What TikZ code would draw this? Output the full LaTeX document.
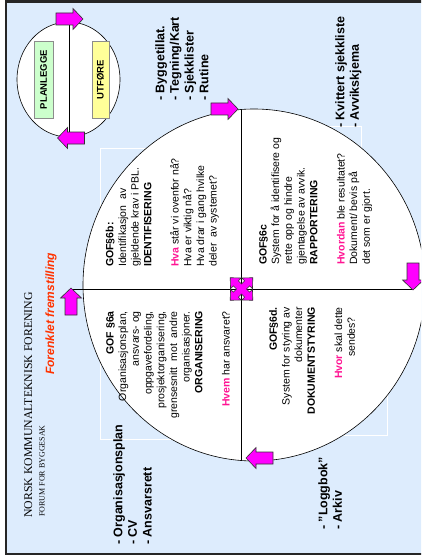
\documentclass[tikz,border=0pt]{standalone}
\usepackage{fontspec}
\setmainfont{Liberation Sans}
\newfontfamily\seriffam{Liberation Serif}
\definecolor{bgblue}{RGB}{221,236,253}
\definecolor{mag}{RGB}{255,0,255}
\definecolor{hot}{RGB}{255,20,147}
\definecolor{titlered}{RGB}{255,51,0}
\definecolor{boxgreen}{RGB}{204,255,204}
\definecolor{boxyellow}{RGB}{255,255,153}
\begin{document}
\begin{tikzpicture}[x=1pt,y=-1pt,
  qtext/.style={rotate=90, inner sep=0pt, font=\fontsize{10.5}{12.7}\selectfont},
  listtext/.style={rotate=90, inner sep=0pt, align=left, anchor=north west,
    font=\bfseries\fontsize{12.5}{14.7}\selectfont},
  faint/.style={draw=white, line width=0.8pt},
  conn/.style={draw=black, line width=0.7pt},
  phasebox/.style={rotate=90, draw=black!45, line width=0.6pt, inner sep=0pt,
    minimum width=77pt, font=\bfseries\fontsize{9.5}{10}\selectfont},
  arrowsty/.style={fill=mag, draw=black!80, line width=0.6pt},
  barrow/.pic={\draw[arrowsty] (-13.5,-6) -- (3.5,-6) -- (3.5,-10.5) -- (13.5,0)
     -- (3.5,10.5) -- (3.5,6) -- (-13.5,6) -- cycle;},
  crossarrow/.pic={\draw[arrowsty] (3.5,3.5) -- (8,3.5) -- (8,7.5) -- (16,0) -- (8,-7.5)
     -- (8,-3.5) -- (3.5,-3.5) -- (3.5,-8) -- (7.5,-8) -- (0,-16) -- (-7.5,-8)
     -- (-3.5,-8) -- (-3.5,-3.5) -- (-8,-3.5) -- (-8,-7.5) -- (-16,0) -- (-8,7.5)
     -- (-8,3.5) -- (-3.5,3.5) -- (-3.5,8) -- (-7.5,8) -- (0,16) -- (7.5,8)
     -- (3.5,8) -- cycle;}
]
\useasboundingbox (0,0) rectangle (421,559);
\clip (0,0) rectangle (421,559);
\fill[white] (0,0) rectangle (421,559);
% slide frame
\draw[line width=2.4pt, draw=black!85, fill=bgblue] (6.2,1.5) rectangle (460,554);

% faint text-box outlines
\draw[faint] (100,148) rectangle (241,289);
\draw[faint] (100,289) rectangle (241,439);
\draw[faint] (241,126) rectangle (361,289);
\draw[faint] (241,289) rectangle (387,435);

% small cycle
\draw[fill=white, line width=0.6pt] (68.5,79.5) ellipse [x radius=51.5, y radius=57.5];
\coordinate (stop) at (69,22);
\coordinate (sbot) at (69,137);
\draw[conn] (stop) -- (sbot);
\node[phasebox, fill=boxgreen, minimum height=19pt] (plan) at (43.5,79.5) {PLANLEGGE};
\node[phasebox, fill=boxyellow, minimum height=17pt] (utf) at (100.5,79.5) {UTFØRE};
\pic at (69.5,19) {barrow};
\pic[rotate=180] at (71,138) {barrow};

% big circle
\draw[fill=white, line width=0.6pt] (254,285) ellipse [x radius=171, y radius=176];
\coordinate (vtop) at (241,109.5);
\coordinate (vbot) at (241,460.5);
\coordinate (hleft) at (71,289);
\coordinate (hright) at (413,289);
\draw[conn] (vtop) -- (vbot);
\draw[conn] (hleft) -- (hright);

% title
\node[rotate=90, anchor=base west, inner sep=0pt, font=\seriffam\fontsize{11.8}{14}\selectfont] (title) at (32,518)
  {NORSK KOMMUNALTEKNISK FORENING};
\node[rotate=90, anchor=base west, inner sep=0pt, font=\seriffam\fontsize{8}{9}\selectfont] (forum) at (44.5,517) {FORUM FOR BYGGESAK};
\node[rotate=90, anchor=base west, inner sep=0pt, text=titlered,
  font=\bfseries\itshape\fontsize{12}{14}\selectfont] (sub) at (54,375) {Forenklet fremstilling};

% outer lists
\node[listtext] (listtop) at (155,101) {- Byggetillat.\\- Tegning/Kart\\- Sjekklister\\- Rutine};
\node[listtext] (listright) at (335,128) {- Kvittert sjekkliste\\- Avvikskjema};
\node[listtext] (listleft) at (113,545) {- Organisasjonsplan\\- CV\\- Ansvarsrett};
\node[listtext] (listbot) at (318,530) {- ''Loggbok''\\- Arkiv};

% quadrant texts
\node[qtext, anchor=north west, align=left] (qb) at (105.5,267)
  {\textbf{GOF§6b:}\\Identifikasjon\ \ av\\gjeldende krav i PBL.\\\textbf{IDENTIFISERING}\\[14.5pt]
   {\bfseries\color{hot}Hva} står vi ovenfor nå?\\Hva er viktig nå?\\Hva drar i gang hvilke\\deler\ \ av systemet?};
\node[qtext, anchor=north east, align=right] (qa) at (106,311)
  {\textbf{GOF §6a}\\Organisasjonsplan,\\ansvars- og\\oppgavefordeling,\\prosjektorganisering,\\grensesnitt\ \ mot\ \ andre\\organisasjoner.\\\textbf{ORGANISERING}\\[14.5pt]
   {\bfseries\color{hot}Hvem} har ansvaret?};
\node[qtext, anchor=north west, align=left] (qc) at (259,265)
  {\textbf{GOF§6c}\\System for å identifisere og\\rette opp og hindre\\gjentagelse av avvik.\\\textbf{RAPPORTERING}\\[14.5pt]
   {\bfseries\color{hot}Hvordan} ble resultatet?\\Dokument/ bevis på\\det som er gjort.};
\node[qtext, anchor=north east, align=right] (qd) at (269,307)
  {\textbf{GOF§6d.}\\System for styring av\\dokumenter\\\textbf{DOKUMENTSTYRING}\\[14.5pt]
   {\bfseries\color{hot}Hvor} skal dette\\sendes?\hspace*{10pt}};

% arrows of the big cycle
\pic at (224.5,109) {barrow};
\pic[rotate=-90] at (413,276.5) {barrow};
\pic[rotate=180] at (259.5,458) {barrow};
\pic[rotate=90] at (71,301.5) {barrow};
\pic[rotate=45] at (241.5,289) {crossarrow};
\end{tikzpicture}
\end{document}
